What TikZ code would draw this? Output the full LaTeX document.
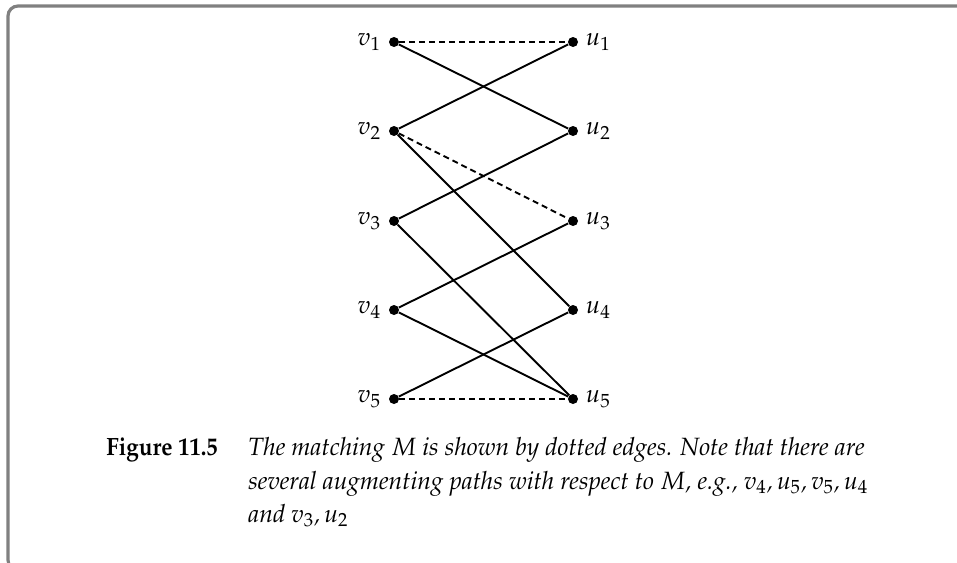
\documentclass[tikz,border=0pt]{standalone}
\usepackage[T1]{fontenc}
\usepackage{mathpazo}
\usepackage{graphicx}
\usetikzlibrary{positioning}

\newcommand{\squeeze}[2][1.0]{\scalebox{#1}[1]{#2}}

\begin{document}
\begin{tikzpicture}[
    x=0.5pt, y=-0.5pt,
    vertex/.style={circle, fill=black, inner sep=0pt, minimum size=5pt},
    lbl/.style={font=\fontsize{12.5}{14}\selectfont, inner sep=1pt},
    edge/.style={line width=0.95pt},
    matched/.style={line width=0.95pt, dash pattern=on 3pt off 2pt},
    frame/.style={draw=black!50, line width=1.6pt, rounded corners=5pt},
    capfig/.style={font=\fontsize{12.5}{16}\selectfont\bfseries, anchor=base west, inner sep=0pt},
    capline/.style={font=\fontsize{12.5}{16}\selectfont\itshape, anchor=base west, inner sep=0pt},
    every label/.style={lbl},
    label distance=2.5pt,
]
\useasboundingbox (0,0) rectangle (957,562);

% --- frame ---
\draw[frame] (8,6) rectangle (990,570);

% --- left side ---
\node[vertex, label=left:$v_1$] (v1) at (394,42) {};
\node[vertex, label=left:$v_2$] (v2) at (394,131) {};
\node[vertex, label=left:$v_3$] (v3) at (394,221) {};
\node[vertex, label=left:$v_4$] (v4) at (394,310) {};
\node[vertex, label=left:$v_5$] (v5) at (394,399) {};

% --- right side ---
\node[vertex, label=right:$u_1$] (u1) at (573,42) {};
\node[vertex, label=right:$u_2$] (u2) at (573,131) {};
\node[vertex, label=right:$u_3$] (u3) at (573,221) {};
\node[vertex, label=right:$u_4$] (u4) at (573,310) {};
\node[vertex, label=right:$u_5$] (u5) at (573,399) {};

% --- edges ---
\draw[matched] (v1) -- (u1);
\draw[matched] (v2) -- (u3);
\draw[matched] (v5) -- (u5);
\draw[edge] (v1) -- (u2);
\draw[edge] (v2) -- (u1);
\draw[edge] (v2) -- (u4);
\draw[edge] (v3) -- (u2);
\draw[edge] (v3) -- (u5);
\draw[edge] (v4) -- (u3);
\draw[edge] (v4) -- (u5);
\draw[edge] (v5) -- (u4);

% --- caption ---
\node[capfig] (fig) at (106,455) {\squeeze[0.9]{Figure 11.5}};
\node[capline] (cap1) at (248,455) {\squeeze[0.985]{The matching $M$ is shown by dotted edges. Note that there are}};
\node[capline] (cap2) at (248,489) {\squeeze[0.985]{several augmenting paths with respect to $M$, \textit{e.g.}, v$_4$,\,u$_5$,\,v$_5$,\,u$_4$}};
\node[capline] (cap3) at (248,522) {\squeeze[0.985]{and v$_3$,\,u$_2$}};

\end{tikzpicture}
\end{document}
